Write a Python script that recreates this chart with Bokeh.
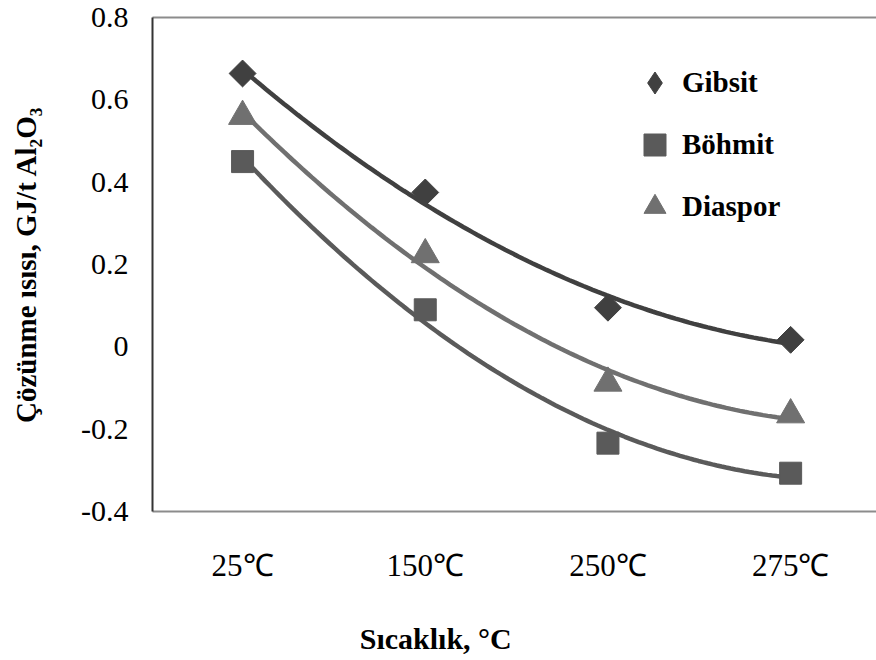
import numpy as np
from bokeh.plotting import figure
from bokeh.models import Range1d, FixedTicker, LinearAxis, Legend, LegendItem
from bokeh.embed import file_html
from bokeh.resources import INLINE

categories = ["25℃", "150℃", "250℃", "275℃"]
gibsit = [0.664, 0.375, 0.095, 0.017]
bohmit = [0.450, 0.090, -0.234, -0.307]
diaspor = [0.560, 0.224, -0.088, -0.165]

xs = [1, 2, 3, 4]

p = figure(width=876, height=660, output_backend="svg", toolbar_location=None,
           x_range=Range1d(0.507, 4.47), y_range=Range1d(-0.4, 0.8),
           min_border_left=152, min_border_right=0, min_border_top=17, min_border_bottom=149)
p.outline_line_color = None
p.grid.visible = False
p.background_fill_color = "white"
p.border_fill_color = "white"

serif = "Liberation Serif"

# y axis
ya = p.yaxis[0]
ya.ticker = FixedTicker(ticks=[-0.4, -0.2, 0, 0.2, 0.4, 0.6, 0.8])
ya.major_label_overrides = {-0.4: "-0.4", -0.2: "-0.2", 0: "0", 0.2: "0.2", 0.4: "0.4", 0.6: "0.6", 0.8: "0.8"}
ya.major_label_text_font = serif
ya.major_label_text_font_size = "30px"
ya.major_label_text_color = "black"
ya.major_tick_out = 0
ya.major_tick_in = 0
ya.minor_tick_out = 0
ya.minor_tick_in = 0
ya.major_label_standoff = 24
ya.axis_line_color = "#333333"
ya.axis_line_width = 2
ya.axis_label = "Çözünme ısısı, GJ/t Al₂O₃"
ya.axis_label_text_font = serif
ya.axis_label_text_font_style = "bold"
ya.axis_label_text_font_size = "29px"
ya.axis_label_text_color = "black"
ya.axis_label_standoff = 36

# x axis
xa = p.xaxis[0]
xa.ticker = FixedTicker(ticks=xs)
xa.major_label_overrides = {x: c for x, c in zip(xs, categories)}
xa.major_label_text_font = serif
xa.major_label_text_font_size = "31px"
xa.major_label_text_color = "black"
xa.major_tick_out = 0
xa.major_tick_in = 0
xa.minor_tick_out = 0
xa.minor_tick_in = 0
xa.major_label_standoff = 36
xa.axis_line_color = "#8c8c8c"
xa.axis_line_width = 2

# second, bare axis below that only carries the x title; trailing no-break
# spaces shift the (centred) title left, as it sits off-centre in the original
xt = LinearAxis(ticker=FixedTicker(ticks=[]), major_label_text_font_size="0px",
                major_tick_out=0, major_tick_in=0, minor_tick_out=0, minor_tick_in=0,
                major_label_standoff=0, axis_line_color=None,
                axis_label="Sıcaklık, °C" + "\u00a0" * 21, axis_label_text_font=serif,
                axis_label_text_font_style="bold", axis_label_text_font_size="30px",
                axis_label_text_color="black", axis_label_standoff=36)
p.add_layout(xt, "below")

top = LinearAxis(ticker=FixedTicker(ticks=[]), major_label_text_font_size="0px",
                 major_tick_out=0, major_tick_in=0, minor_tick_out=0, minor_tick_in=0,
                 major_label_standoff=0, axis_line_color="#8c8c8c", axis_line_width=2)
p.add_layout(top, "above")

series = [
    ("Gibsit", gibsit, "#404040", "square", 19, 0.785398, "diamond"),
    ("Böhmit", bohmit, "#5a5a5a", "square", 22, 0.0, "square"),
    ("Diaspor", diaspor, "#707070", "triangle", 28, 0.0, "triangle"),
]

items = []
xf = np.linspace(1, 4, 120)
for name, vals, col, mk, sz, ang, lmk in series:
    coef = np.polyfit(xs, vals, 2)
    p.line(xf, np.polyval(coef, xf), line_color=col, line_width=4.5)
for name, vals, col, mk, sz, ang, lmk in series:
    r = p.scatter(xs, vals, marker=mk, size=sz, angle=ang, fill_color=col, line_color=col, line_width=1)
    if lmk == mk and ang == 0.0:
        items.append(LegendItem(label=name, renderers=[r]))
    else:
        lr = p.scatter(x=[np.nan], y=[np.nan], marker=lmk, fill_color=col, line_color=col, line_width=1)
        items.append(LegendItem(label=name, renderers=[lr]))

legend = Legend(items=items, location=(475, 277), orientation="vertical",
                label_text_font=serif, label_text_font_style="bold", label_text_font_size="29px",
                label_text_color="black", glyph_width=55, glyph_height=55, label_height=30,
                spacing=7, padding=0, margin=0, label_standoff=0,
                border_line_color=None, background_fill_alpha=0)
p.add_layout(legend, "center")

open("out.html", "w").write(file_html(p, INLINE))
